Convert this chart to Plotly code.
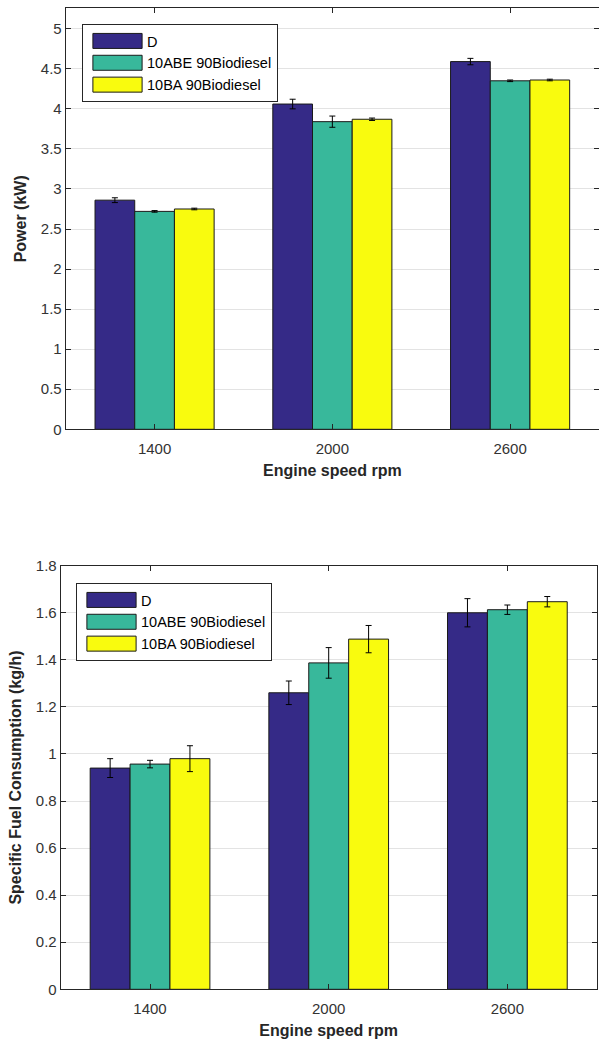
import plotly.graph_objects as go

# ---- data ----
speeds = ["1400", "2000", "2600"]
series_names = ["D", "10ABE 90Biodiesel", "10BA 90Biodiesel"]
colors = ["#352A87", "#38B89B", "#F9FB0E"]

power_D = [2.86, 4.06, 4.59]
power_ABE = [2.72, 3.84, 4.35]
power_BA = [2.75, 3.87, 4.36]
power_err_D = [0.03, 0.06, 0.04]
power_err_ABE = [0.01, 0.07, 0.01]
power_err_BA = [0.01, 0.015, 0.01]

sfc_D = [0.94, 1.26, 1.60]
sfc_ABE = [0.957, 1.387, 1.613]
sfc_BA = [0.98, 1.488, 1.647]
sfc_err_D = [0.04, 0.05, 0.06]
sfc_err_ABE = [0.016, 0.065, 0.02]
sfc_err_BA = [0.055, 0.058, 0.022]

power_ticks = [0, 0.5, 1, 1.5, 2, 2.5, 3, 3.5, 4, 4.5, 5]
sfc_ticks = [0, 0.2, 0.4, 0.6, 0.8, 1, 1.2, 1.4, 1.6, 1.8]

FONT = "Liberation Sans, Arial, Helvetica, sans-serif"
AX = "#262626"

fig = go.Figure()

power_vals = [power_D, power_ABE, power_BA]
power_errs = [power_err_D, power_err_ABE, power_err_BA]
sfc_vals = [sfc_D, sfc_ABE, sfc_BA]
sfc_errs = [sfc_err_D, sfc_err_ABE, sfc_err_BA]

for name, col, v, e in zip(series_names, colors, power_vals, power_errs):
    fig.add_trace(go.Bar(
        x=speeds, y=v, name=name, xaxis="x", yaxis="y", legend="legend",
        marker=dict(color=col, line=dict(color="#1a1a1a", width=1)),
        error_y=dict(type="data", array=e, color="black", thickness=1, width=3),
    ))

for name, col, v, e in zip(series_names, colors, sfc_vals, sfc_errs):
    fig.add_trace(go.Bar(
        x=speeds, y=v, name=name, xaxis="x2", yaxis="y2", legend="legend2",
        marker=dict(color=col, line=dict(color="#1a1a1a", width=1)),
        error_y=dict(type="data", array=e, color="black", thickness=1, width=3),
    ))

W, H = 599, 1039

def axis_common():
    return dict(showline=True, linecolor=AX, linewidth=1, mirror="ticks",
                ticks="inside", ticklen=5, tickcolor=AX, zeroline=False,
                automargin=False,
                tickfont=dict(family=FONT, size=15, color="#333333"))

TITLE_FONT = dict(family=FONT, size=16, color=AX)

fig.update_layout(
    template="none",
    width=W, height=H,
    margin=dict(l=0, r=0, t=0, b=0, autoexpand=False),
    paper_bgcolor="white", plot_bgcolor="white",
    barmode="group", bargap=0.33, bargroupgap=0,
    font=dict(family=FONT, size=14, color=AX),
    xaxis=dict(domain=[65.7 / W, 1.0], anchor="y", type="category",
               range=[-0.5, 2.5], showgrid=False, ticklabelstandoff=6,
               title=dict(text="<b>Engine speed rpm</b>", standoff=8, font=TITLE_FONT),
               **axis_common()),
    yaxis=dict(domain=[1 - 429.3 / H, 1 - 8.3 / H], anchor="x",
               range=[0, 5.255], tickvals=power_ticks,
               ticktext=[f"{t:g}" for t in power_ticks],
               showgrid=True, gridcolor="#e3e3e3", gridwidth=1,
               title=dict(text="<b>Power (kW)</b>", standoff=10, font=TITLE_FONT),
               **axis_common()),
    xaxis2=dict(domain=[60.7 / W, 596.7 / W], anchor="y2", type="category",
                range=[-0.5, 2.5], showgrid=False, ticklabelstandoff=6,
                title=dict(text="<b>Engine speed rpm</b>", standoff=8, font=TITLE_FONT),
                **axis_common()),
    yaxis2=dict(domain=[1 - 989.3 / H, 1 - 565.7 / H], anchor="x2",
                range=[0, 1.8], tickvals=sfc_ticks,
                ticktext=[f"{t:g}" for t in sfc_ticks],
                showgrid=True, gridcolor="#e3e3e3", gridwidth=1,
                title=dict(text="<b>Specific Fuel Consumption (kg/h)</b>", standoff=10,
                           font=TITLE_FONT),
                **axis_common()),
    legend=dict(x=82 / W, y=1 - 24 / H, xanchor="left", yanchor="top",
                bgcolor="white", bordercolor=AX, borderwidth=1,
                font=dict(family=FONT, size=14.5, color="black"),
                tracegroupgap=0, itemwidth=54),
    legend2=dict(x=76 / W, y=1 - 583 / H, xanchor="left", yanchor="top",
                 bgcolor="white", bordercolor=AX, borderwidth=1,
                 font=dict(family=FONT, size=14.5, color="black"),
                 tracegroupgap=0, itemwidth=54),
)

post = """
document.body.style.margin='0px';
document.body.style.overflow='hidden';
document.querySelectorAll('g.legendpoints path').forEach(function(p){
  var old = p.getAttribute('transform') || '';
  p.setAttribute('transform', old + ' translate(2.5,0) scale(4.1,1.25)');
  p.setAttribute('vector-effect','non-scaling-stroke');
  p.style.vectorEffect='non-scaling-stroke';
});
"""

fig.write_html("out.html", config={"displayModeBar": False}, post_script=post)
